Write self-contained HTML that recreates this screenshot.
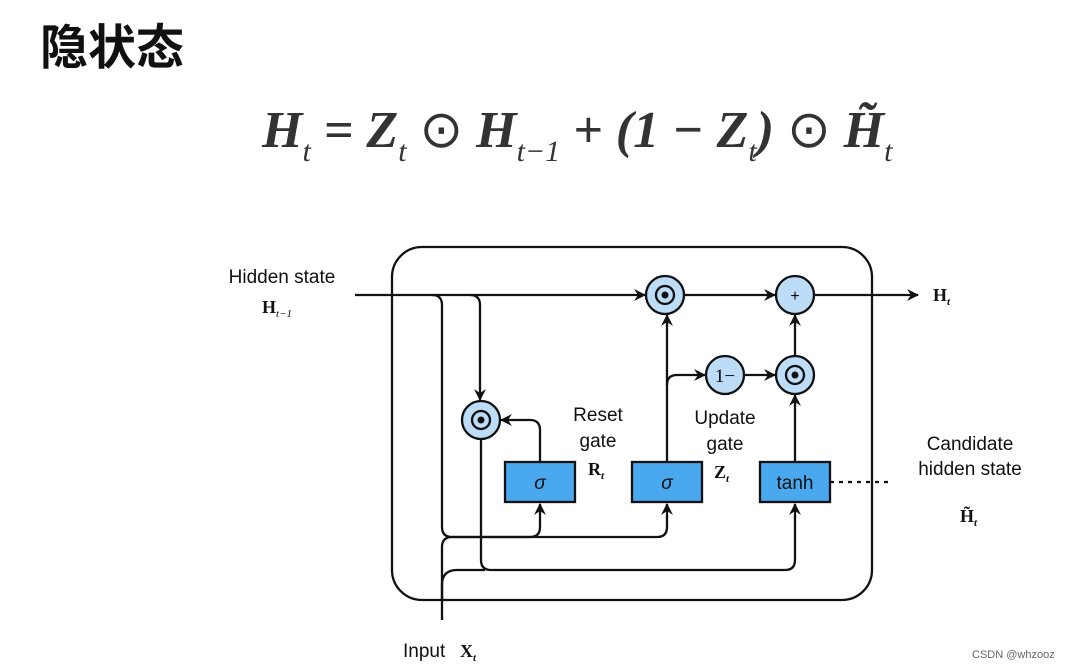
<!DOCTYPE html>
<html><head><meta charset="utf-8"><style>
body{margin:0;width:1065px;height:668px;background:#fff;overflow:hidden;position:relative;font-family:"Liberation Sans",sans-serif}
.t{position:absolute;left:40px;top:8px;font:bold 48px "Noto Sans CJK SC",sans-serif;color:#111}
.eq{position:absolute;left:262px;top:100px;font:bold italic 52px "Liberation Serif",serif;color:#333;white-space:nowrap}
.eq sub{font-size:30px;vertical-align:-14px;font-weight:normal}
.eq .o{font-style:normal;font-weight:normal}
</style></head><body>
<div class="t">隐状态</div>
<div class="eq">H<sub>t</sub> = Z<sub>t</sub> <span class="o">⊙</span> H<sub>t−1</sub> + (1 − Z<sub>t</sub>) <span class="o">⊙</span> H̃<sub>t</sub></div>
<svg width="1065" height="668" style="position:absolute;left:0;top:0" font-family="Liberation Sans,sans-serif">
<defs><marker id="a" markerWidth="12" markerHeight="12" refX="11" refY="6" orient="auto" markerUnits="userSpaceOnUse"><path d="M0,0 L12,6 L0,12 L4,6z" fill="#111"/></marker></defs>
<g stroke="#111" stroke-width="2.3" fill="none">
<rect x="392" y="247" width="480" height="353" rx="30"/>
<path d="M355,295 H645" marker-end="url(#a)"/>
<path d="M685,295 H775" marker-end="url(#a)"/>
<path d="M815,295 H918" marker-end="url(#a)"/>
<path d="M432,295 q10,0 10,10 V527 q0,10 10,10 H530 q10,0 10,-10 V504" marker-end="url(#a)"/>
<path d="M470,295 q10,0 10,10 V400" marker-end="url(#a)"/>
<path d="M540,462 V430 q0,-10 -10,-10 H501" marker-end="url(#a)"/>
<path d="M442,620 V547 q0,-10 10,-10 H657 q10,0 10,-10 V504" marker-end="url(#a)"/>
<path d="M481,440 V560 q0,10 10,10 H785 q10,0 10,-10 V504" marker-end="url(#a)"/>
<path d="M442,600 V585 q0,-15 15,-15 H485"/>
<path d="M667,462 V315" marker-end="url(#a)"/>
<path d="M667,385 q0,-10 10,-10 H705" marker-end="url(#a)"/>
<path d="M745,375 H775" marker-end="url(#a)"/>
<path d="M795,355 V315" marker-end="url(#a)"/>
<path d="M795,462 V395" marker-end="url(#a)"/>
<path d="M830,482 H893" stroke-dasharray="4,5"/>
</g>
<g fill="#bcdcf8" stroke="#111" stroke-width="2.3">
<circle cx="665" cy="295" r="19"/><circle cx="795" cy="295" r="19"/>
<circle cx="725" cy="375" r="19"/><circle cx="795" cy="375" r="19"/>
<circle cx="481" cy="420" r="19"/>
</g>
<g fill="#111"><circle cx="665" cy="295" r="3.5"/><circle cx="795" cy="375" r="3.5"/><circle cx="481" cy="420" r="3.5"/></g>
<g fill="none" stroke="#111" stroke-width="2.3"><circle cx="665" cy="295" r="9"/><circle cx="795" cy="375" r="9"/><circle cx="481" cy="420" r="9"/></g>
<text x="795" y="301" font-size="16" text-anchor="middle">+</text>
<text x="725" y="382" font-size="19" font-family="Liberation Serif" text-anchor="middle">1−</text>
<g fill="#4aa8ef" stroke="#111" stroke-width="2.3">
<rect x="505" y="462" width="70" height="40"/><rect x="632" y="462" width="70" height="40"/><rect x="760" y="462" width="70" height="40"/>
</g>
<g font-size="19" text-anchor="middle" fill="#111">
<text x="540" y="489" font-style="italic">σ</text><text x="667" y="489" font-style="italic">σ</text><text x="795" y="489">tanh</text>
<text x="282" y="283">Hidden state</text>
<text x="598" y="421">Reset</text><text x="598" y="447">gate</text>
<text x="725" y="424">Update</text><text x="725" y="450">gate</text>
<text x="970" y="450">Candidate</text><text x="970" y="475">hidden state</text>
</g>
<g font-family="Liberation Serif" font-weight="bold" font-size="18" fill="#111">
<text x="262" y="313">H<tspan font-size="11" font-style="italic" font-weight="normal" dy="4">t−1</tspan></text>
<text x="933" y="301">H<tspan font-size="11" font-style="italic" dy="4">t</tspan></text>
<text x="588" y="475">R<tspan font-size="11" font-style="italic" dy="4">t</tspan></text>
<text x="714" y="478">Z<tspan font-size="11" font-style="italic" dy="4">t</tspan></text>
<text x="960" y="522">H̃<tspan font-size="11" font-style="italic" dy="4">t</tspan></text>
<text x="460" y="657">X<tspan font-size="11" font-style="italic" dy="4">t</tspan></text>
</g>
<text x="403" y="657" font-size="19" fill="#111">Input</text>
<text x="972" y="658" font-size="11" fill="#666">CSDN @whzooz</text>
</svg>
</body></html>
